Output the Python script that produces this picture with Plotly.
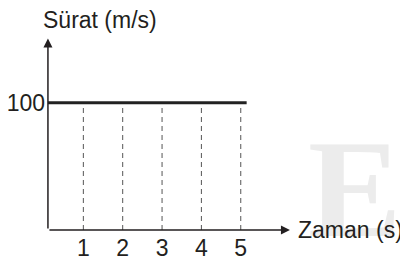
import plotly.graph_objects as go

# Data
times = [1, 2, 3, 4, 5]            # s
speed = 100                         # m/s (constant)
line_t = [0.1, 5.15]                # extent of the speed line
y_ticks = [100]
x_label = "Zaman (s)"
y_label = "Sürat (m/s)"

# page has an 8px body margin: figure is 400x252 drawn at (8, 8)
OFF = 8
W, H = 408 - OFF, 260 - OFF
X0, XS = 44 - OFF, 39.35      # pixel of t=0, px per second
Y0, YS = 230 - OFF, 1.273     # pixel of v=0, px per m/s
xr = [-X0 / XS, (W - X0) / XS]
yr = [(Y0 - H) / YS, Y0 / YS]
ink = "#231f20"
font = dict(family="Liberation Sans, Arial, sans-serif", size=23, color=ink)


def px(xp):
    return (xp - OFF) / W


def py(yp):
    return 1 - (yp - OFF) / H


fig = go.Figure()

# dashed verticals
for t in times:
    fig.add_trace(go.Scatter(x=[t, t], y=[0, speed], mode="lines",
                             line=dict(color="#555555", width=1, dash="5px,4px"),
                             hoverinfo="skip", showlegend=False))

# constant speed line
fig.add_trace(go.Scatter(x=line_t, y=[speed] * len(line_t), mode="lines",
                         line=dict(color="#222222", width=3),
                         hoverinfo="skip", showlegend=False))

# watermark
fig.add_annotation(x=px(306), y=py(188), xref="paper", yref="paper",
                   text="<b>ES</b>", showarrow=False, xanchor="left", yanchor="middle",
                   font=dict(family="Liberation Serif, serif", size=140, color="#ececec"))

# axes arrows
fig.add_annotation(x=6.25, y=0, ax=0.1, ay=0, xref="x", yref="y", axref="x", ayref="y",
                   text="", showarrow=True, arrowhead=2, arrowsize=1.2, arrowwidth=1.5,
                   arrowcolor=ink, standoff=0)
fig.add_annotation(x=0.1, y=150.5, ax=0.1, ay=0, xref="x", yref="y", axref="x", ayref="y",
                   text="", showarrow=True, arrowhead=2, arrowsize=1.2, arrowwidth=1.5,
                   arrowcolor=ink, standoff=0)

# axis titles
fig.add_annotation(x=px(41), y=py(20), xref="paper", yref="paper", text=y_label,
                   showarrow=False, xanchor="left", yanchor="middle", font=font)
fig.add_annotation(x=px(296), y=py(230), xref="paper", yref="paper", text=x_label,
                   showarrow=False, xanchor="left", yanchor="middle", font=font)

fig.update_layout(
    width=W, height=H, margin=dict(l=0, r=0, t=0, b=0),
    paper_bgcolor="white", plot_bgcolor="white", showlegend=False,
    xaxis=dict(range=xr, showgrid=False, zeroline=False, showline=False,
               tickvals=times, ticks="", anchor="free", position=(H - Y0) / H,
               tickfont=font, ticklabelstandoff=2, automargin=False),
    yaxis=dict(range=yr, showgrid=False, zeroline=False, showline=False,
               tickvals=y_ticks, ticks="", anchor="free", position=(48 - OFF) / W,
               tickfont=font, ticklabelstandoff=3, automargin=False),
)

fig.write_html("out.html")
